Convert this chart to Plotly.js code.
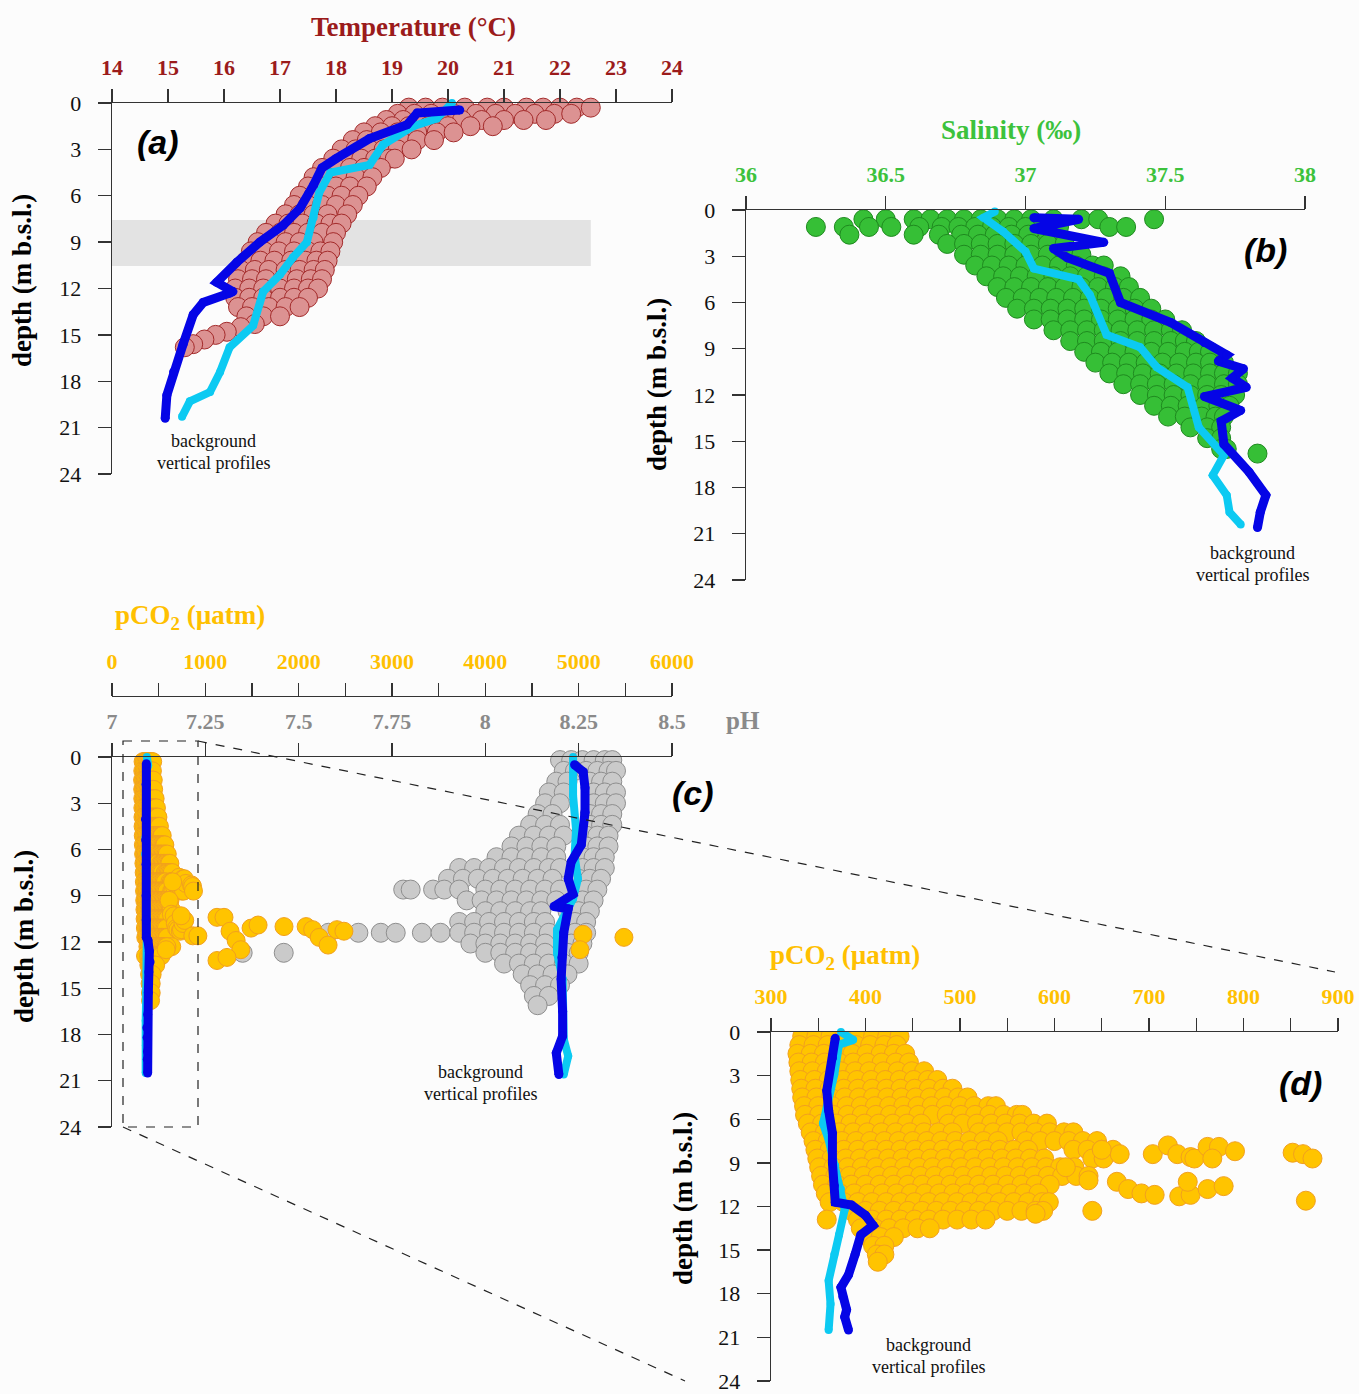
<!DOCTYPE html>
<html>
<head>
<meta charset="utf-8">
<script src="https://cdn.plot.ly/plotly-3.0.1.min.js"></script>
<style>html,body{margin:0;padding:0;background:#fcfcfc;}#chart{width:1359px;height:1394px;}</style>
</head>
<body>
<div id="chart"></div>
<script>
// ---------------- DATA ----------------
// Panel (a): temperature cloud, rows of [depth, [temperatures]]
const tempRows = [
  [0.3, [19.3, 19.6, 19.9, 20.3, 20.7, 21.0, 21.4, 21.7, 22.0, 22.3, 22.55]],
  [0.7, [19.1, 19.4, 19.7, 20.1, 20.5, 20.85, 21.2, 21.55, 21.9, 22.2]],
  [1.1, [18.9, 19.2, 19.5, 19.85, 20.25, 20.6, 21.0, 21.35, 21.75]],
  [1.5, [18.7, 19.0, 19.3, 19.65, 20.0, 20.4, 20.8]],
  [1.9, [18.5, 18.8, 19.1, 19.45, 19.8, 20.1]],
  [2.4, [18.3, 18.55, 18.85, 19.15, 19.45, 19.75]],
  [3.0, [18.1, 18.35, 18.6, 18.85, 19.1, 19.35]],
  [3.6, [17.95, 18.2, 18.45, 18.7, 18.95, 19.05]],
  [4.2, [17.75, 18.0, 18.25, 18.5, 18.8]],
  [4.8, [17.6, 17.85, 18.1, 18.35, 18.65]],
  [5.4, [17.5, 17.75, 18.0, 18.25, 18.55]],
  [6.0, [17.35, 17.6, 17.85, 18.1, 18.4]],
  [6.6, [17.25, 17.5, 17.75, 18.0, 18.3]],
  [7.2, [17.1, 17.35, 17.6, 17.85, 18.2]],
  [7.8, [16.92, 17.15, 17.4, 17.65, 17.9, 18.1]],
  [8.4, [16.75, 17.0, 17.25, 17.5, 17.75, 18.0]],
  [9.0, [16.6, 16.85, 17.1, 17.35, 17.6, 17.95]],
  [9.6, [16.48, 16.72, 16.98, 17.25, 17.5, 17.72, 17.9]],
  [10.2, [16.4, 16.65, 16.9, 17.2, 17.45, 17.65, 17.85]],
  [10.8, [16.3, 16.55, 16.8, 17.1, 17.35, 17.6, 17.8]],
  [11.4, [16.25, 16.5, 16.75, 17.05, 17.3, 17.55, 17.75]],
  [12.0, [16.2, 16.45, 16.7, 17.0, 17.25, 17.5, 17.68]],
  [12.6, [16.2, 16.45, 16.7, 17.0, 17.25, 17.5]],
  [13.2, [16.25, 16.5, 16.8, 17.1, 17.35]],
  [13.8, [16.4, 16.7, 17.0]],
  [14.3, [16.55]]
];
const tempTail = [[16.3,14.5],[16.05,14.8],[15.85,15.0],[15.65,15.3],[15.45,15.6],[15.3,15.8]];
const tempDark = [[20.21,0.45],[19.45,0.65],[19.27,1.4],[18.6,2.3],[18.0,3.6],[17.75,4.2],[17.6,5.3],[17.36,6.8],[17.06,7.9],[16.64,9.0],[16.23,10.3],[15.87,11.6],[16.16,12.2],[16.1,12.3],[15.63,12.9],[15.45,13.7],[15.27,15.6],[15.1,17.4],[14.98,18.9],[14.95,20.4]];
const tempLight = [[20.07,0.0],[19.8,1.0],[19.38,1.5],[18.84,2.7],[18.6,4.0],[17.9,4.5],[17.7,5.8],[17.6,7.4],[17.48,9.0],[17.23,10.0],[17.0,11.1],[16.7,12.2],[16.52,14.4],[16.1,15.8],[15.93,17.4],[15.75,18.7],[15.39,19.3],[15.25,20.3]];
const tempBand = [7.57, 10.54]; // depth range of grey band

// Panel (b): salinity cloud
const salRows = [
  [0.6, [36.42, 36.5, 36.6, 36.66, 36.72, 36.78, 36.84, 36.9, 36.96, 37.02, 37.1, 37.2, 37.26, 37.46]],
  [1.1, [36.25, 36.35, 36.44, 36.52, 36.62, 36.7, 36.76, 36.82, 36.88, 36.94, 37.0, 37.12, 37.3, 37.36]],
  [1.6, [36.37, 36.6, 36.69, 36.77, 36.83, 36.89, 36.95, 37.01, 37.08]],
  [2.2, [36.72, 36.78, 36.84, 36.9, 36.96, 37.02, 37.08, 37.14]],
  [2.9, [36.78, 36.84, 36.9, 36.96, 37.02, 37.08, 37.14, 37.2]],
  [3.6, [36.82, 36.88, 36.94, 37.0, 37.06, 37.12, 37.18, 37.24, 37.28]],
  [4.3, [36.86, 36.92, 36.98, 37.04, 37.1, 37.16, 37.22, 37.28, 37.34]],
  [5.0, [36.9, 36.96, 37.02, 37.08, 37.14, 37.2, 37.26, 37.32, 37.37]],
  [5.7, [36.93, 36.99, 37.05, 37.11, 37.17, 37.23, 37.29, 37.35, 37.41]],
  [6.4, [36.97, 37.03, 37.09, 37.15, 37.21, 37.27, 37.33, 37.39, 37.45]],
  [7.1, [37.03, 37.09, 37.15, 37.21, 37.27, 37.33, 37.39, 37.45, 37.5]],
  [7.8, [37.1, 37.16, 37.22, 37.28, 37.34, 37.4, 37.46, 37.52, 37.56]],
  [8.5, [37.16, 37.22, 37.28, 37.34, 37.4, 37.46, 37.52, 37.57, 37.61]],
  [9.2, [37.21, 37.27, 37.33, 37.39, 37.45, 37.51, 37.57, 37.62, 37.66]],
  [9.9, [37.25, 37.31, 37.37, 37.43, 37.49, 37.55, 37.61, 37.66, 37.71]],
  [10.6, [37.3, 37.36, 37.42, 37.48, 37.54, 37.6, 37.66, 37.71, 37.76]],
  [11.3, [37.35, 37.41, 37.47, 37.53, 37.59, 37.65, 37.71, 37.76]],
  [12.0, [37.41, 37.47, 37.53, 37.59, 37.65, 37.7, 37.75]],
  [12.7, [37.46, 37.52, 37.58, 37.64, 37.69, 37.73]],
  [13.4, [37.51, 37.57, 37.63, 37.68, 37.71]],
  [14.1, [37.59, 37.65, 37.7]],
  [14.8, [37.65, 37.7]],
  [15.5, [37.7, 37.72]],
  [15.8, [37.83]]
];
const salDark = [[37.03,0.5],[37.19,0.6],[37.03,1.2],[37.28,2.1],[37.1,2.5],[37.15,3.1],[37.3,4.1],[37.34,6.0],[37.52,7.3],[37.64,8.6],[37.72,9.4],[37.69,9.8],[37.78,10.3],[37.74,10.9],[37.79,11.5],[37.64,12.1],[37.77,13.0],[37.70,13.7],[37.71,15.2],[37.8,17.0],[37.86,18.5],[37.84,19.6],[37.83,20.6]];
const salLight = [[36.89,0.1],[36.85,0.5],[36.92,1.4],[37.0,2.7],[37.03,3.8],[37.19,4.5],[37.23,5.5],[37.29,8.1],[37.41,8.9],[37.47,10.2],[37.58,11.5],[37.62,14.1],[37.71,15.9],[37.67,17.2],[37.72,18.5],[37.73,19.6],[37.77,20.4]];

// Panel (c): pH cloud
const phRows = [
  [0.2, [8.20, 8.23, 8.26, 8.29, 8.32, 8.34]],
  [0.9, [8.21, 8.24, 8.27, 8.30, 8.33, 8.35]],
  [1.6, [8.19, 8.22, 8.28, 8.31, 8.34]],
  [2.3, [8.17, 8.21, 8.29, 8.32, 8.35]],
  [3.0, [8.16, 8.20, 8.29, 8.32, 8.35]],
  [3.7, [8.14, 8.18, 8.28, 8.31, 8.34]],
  [4.4, [8.12, 8.16, 8.20, 8.28, 8.31, 8.34]],
  [5.1, [8.09, 8.13, 8.17, 8.21, 8.27, 8.30, 8.33]],
  [5.8, [8.07, 8.11, 8.15, 8.19, 8.27, 8.30, 8.33]],
  [6.5, [8.03, 8.07, 8.11, 8.15, 8.19, 8.26, 8.29, 8.32]],
  [7.2, [7.93, 7.97, 8.01, 8.05, 8.09, 8.13, 8.17, 8.20, 8.26, 8.29, 8.32]],
  [7.9, [7.90, 7.94, 7.98, 8.02, 8.06, 8.10, 8.14, 8.18, 8.25, 8.28, 8.31]],
  [8.6, [7.78, 7.80, 7.86, 7.89, 7.93, 8.00, 8.04, 8.08, 8.12, 8.16, 8.20, 8.27, 8.30]],
  [9.3, [7.95, 7.99, 8.03, 8.07, 8.11, 8.15, 8.19, 8.26, 8.29]],
  [10.0, [8.00, 8.04, 8.08, 8.12, 8.15, 8.22, 8.25, 8.28]],
  [10.7, [7.93, 7.97, 8.01, 8.05, 8.09, 8.13, 8.16, 8.24, 8.27]],
  [11.4, [7.58, 7.66, 7.72, 7.76, 7.83, 7.88, 7.93, 7.97, 8.01, 8.05, 8.09, 8.13, 8.17, 8.24, 8.27]],
  [12.1, [7.96, 8.00, 8.04, 8.08, 8.12, 8.16, 8.23, 8.26]],
  [12.7, [7.35, 7.46, 8.00, 8.04, 8.08, 8.12, 8.16, 8.22, 8.25]],
  [13.4, [8.05, 8.09, 8.13, 8.17, 8.21, 8.25]],
  [14.1, [8.10, 8.14, 8.18, 8.22]],
  [14.8, [8.12, 8.16, 8.20]],
  [15.5, [8.13, 8.17]],
  [16.1, [8.14]]
];
const phDark = [[8.239,0.5],[8.262,0.96],[8.267,2.0],[8.267,3.6],[8.257,5.7],[8.23,6.8],[8.222,7.9],[8.235,8.9],[8.184,9.7],[8.222,9.85],[8.21,11.4],[8.205,13.0],[8.203,14.4],[8.207,16.5],[8.207,18.1],[8.19,19.2],[8.197,20.6]];
const phLight = [[8.235,0.0],[8.235,2.5],[8.243,4.7],[8.239,6.4],[8.248,7.9],[8.235,9.2],[8.192,11.2],[8.192,12.7],[8.207,14.4],[8.21,18.3],[8.222,19.4],[8.21,20.6]];

// Panels (c) and (d): pCO2 cloud
const pco2Rows = [
  [0.3, [333, 348, 363, 378, 393, 408, 423, 436]],
  [0.9, [330, 345, 360, 375, 390, 405, 420, 433]],
  [1.5, [328, 342, 356, 371, 386, 401, 416, 430, 442]],
  [2.1, [329, 343, 357, 372, 387, 402, 417, 432, 446]],
  [2.7, [330, 344, 359, 374, 389, 404, 419, 434, 449, 462]],
  [3.3, [331, 346, 361, 376, 391, 406, 421, 436, 451, 466, 476]],
  [3.9, [332, 347, 362, 377, 392, 407, 422, 437, 452, 467, 482, 492]],
  [4.5, [333, 348, 363, 378, 393, 408, 423, 438, 453, 468, 483, 498, 508]],
  [5.1, [335, 350, 365, 380, 395, 410, 425, 440, 455, 470, 485, 500, 515, 530, 538]],
  [5.7, [336, 351, 366, 381, 396, 411, 426, 441, 456, 471, 486, 501, 516, 531, 546, 560, 566]],
  [6.3, [339, 354, 369, 384, 399, 414, 429, 444, 459, 488, 503, 518, 533, 548, 563, 578, 592]],
  [6.9, [342, 357, 372, 387, 402, 417, 432, 447, 462, 477, 492, 520, 535, 550, 565, 580, 595, 610, 620]],
  [7.5, [345, 360, 375, 390, 405, 420, 435, 450, 465, 480, 495, 510, 525, 540, 570, 585, 600, 615, 630, 645]],
  [8.1, [347, 362, 377, 392, 407, 422, 437, 452, 467, 482, 497, 512, 527, 542, 557, 572, 620, 635, 650, 662]],
  [8.7, [349, 364, 379, 394, 409, 424, 439, 454, 469, 484, 499, 514, 529, 544, 559, 574, 589, 640, 652]],
  [9.3, [351, 366, 381, 396, 411, 426, 441, 456, 471, 486, 501, 516, 531, 546, 561, 576, 591, 606, 621]],
  [9.9, [353, 368, 383, 398, 413, 428, 443, 458, 473, 488, 503, 518, 533, 548, 563, 578, 593, 608, 623, 636]],
  [10.5, [355, 370, 385, 400, 415, 430, 445, 460, 475, 490, 505, 520, 535, 550, 565, 580, 595]],
  [11.1, [358, 373, 388, 403, 418, 433, 448, 463, 478, 493, 508, 523, 538, 553, 568, 583]],
  [11.7, [362, 377, 392, 407, 422, 437, 452, 467, 482, 497, 512, 527, 542, 557, 572, 587, 594]],
  [12.3, [385, 400, 415, 430, 445, 460, 475, 490, 505, 520, 535, 550, 565, 580]],
  [12.9, [359, 392, 407, 422, 437, 452, 467, 482, 497, 512, 527]],
  [13.5, [395, 410, 425, 440, 455, 468]],
  [14.1, [403, 416, 430]],
  [14.7, [408, 420]],
  [15.3, [412, 420]],
  [15.8, [413]]
];
const pco2Outliers = [[669,8.4],[704,8.4],[720,7.8],[730,8.4],[744,8.6],[748,8.7],[762,7.9],[774,7.9],[767,8.7],[791,8.2],[852,8.3],[863,8.4],[873,8.7],[650,8.1],[612,9.3],[636,10.2],[666,10.3],[678,10.8],[692,11.1],[706,11.2],[732,11.3],[744,11.2],[762,10.8],[779,10.6],[741,10.3],[866,11.6],[640,12.3],[588,12.3],[580,12.5]];
const pco2FarOutliers = [[920,11.6],[1125,10.4],[1200,10.4],[1265,11.3],[1330,11.9],[1380,12.5],[1125,13.2],[1232,13.0],[1490,11.1],[1565,10.9],[1843,11.0],[2080,11.0],[2150,11.2],[2220,11.7],[2315,12.2],[2410,11.2],[2485,11.3],[5046,11.5],[5014,12.5],[5485,11.7]];
const pco2Dark = [[368,0.43],[365,1.78],[359,4.03],[361,5.39],[365,6.96],[365,9.0],[367,10.57],[368,11.7],[385,11.9],[400,12.6],[408,13.3],[395,13.95],[389,15.3],[382,16.7],[374,17.56],[376,18.2],[380,19.1],[378,19.6],[382,20.5]];
const pco2Light = [[374,0.0],[387,0.54],[372,0.88],[367,2.9],[359,5.2],[355,6.3],[361,7.4],[368,9.2],[374,10.8],[378,12.2],[372,13.95],[367,15.3],[361,17.1],[363,18.7],[361,20.5]];

// Tick labels
const depthTicks = [0, 3, 6, 9, 12, 15, 18, 21, 24];
const tempTicks = [14, 15, 16, 17, 18, 19, 20, 21, 22, 23, 24];
const salTicks = [36, 36.5, 37, 37.5, 38];
const phTicks = [7, 7.25, 7.5, 7.75, 8, 8.25, 8.5];
const phTickText = ['7', '7.25', '7.5', '7.75', '8', '8.25', '8.5'];
const pco2TicksC = [0, 1000, 2000, 3000, 4000, 5000, 6000];
const pco2TicksD = [300, 400, 500, 600, 700, 800, 900];

// ---------------- HELPERS ----------------
function rowsXY(rows) { const x = [], y = []; rows.forEach(r => r[1].forEach(v => { x.push(v); y.push(r[0]); })); return [x, y]; }
function pairsXY(p) { return [p.map(q => q[0]), p.map(q => q[1])]; }

const W = 1359, H = 1394;
const px = v => v / W, py = v => 1 - v / H;

const SERIF = 'Liberation Serif, Times New Roman, serif';
const SANS = 'Liberation Sans, Arial, sans-serif';
const C_TEMP = '#9b1b1b', C_SAL = '#3cc23c', C_PCO2 = '#ffc000', C_PH = '#8a8a8a';
const DARK = '#0505e6', LIGHT = '#0ccaf2';

const [tX, tY] = rowsXY(tempRows); const [ttX, ttY] = pairsXY(tempTail);
const [sX, sY] = rowsXY(salRows);
const [pX, pY] = rowsXY(phRows);
const [cX, cY] = rowsXY(pco2Rows); const [oX, oY] = pairsXY(pco2Outliers); const [fX, fY] = pairsXY(pco2FarOutliers);

function cloud(x, y, xa, ya, size, fill, edge, clip) {
  return { type: 'scatter', mode: 'markers', x: x, y: y, xaxis: xa, yaxis: ya, cliponaxis: clip,
    marker: { size: size, color: fill, line: { color: edge, width: 1 } }, hoverinfo: 'skip', showlegend: false };
}
function prof(p, xa, ya, color, w) {
  const [x, y] = pairsXY(p);
  return { type: 'scatter', mode: 'lines+markers', x: x, y: y, xaxis: xa, yaxis: ya, cliponaxis: false,
    line: { color: color, width: w }, marker: { size: w, color: color }, hoverinfo: 'skip', showlegend: false };
}

const traces = [
  cloud(tX.concat(ttX), tY.concat(ttY), 'x', 'y', 19, '#dc9292', '#a32a2a', false),
  prof(tempLight, 'x', 'y', LIGHT, 8),
  prof(tempDark, 'x', 'y', DARK, 9),
  cloud(sX, sY, 'x2', 'y2', 19, '#36bf36', '#1f8a1f', false),
  prof(salLight, 'x2', 'y2', LIGHT, 8),
  prof(salDark, 'x2', 'y2', DARK, 9),
  cloud(pX, pY, 'x3', 'y3', 19, '#cacaca', '#8e8e8e', false),
  prof(phLight, 'x3', 'y3', LIGHT, 8),
  prof(phDark, 'x3', 'y3', DARK, 9),
  cloud(cX.concat(oX, fX), cY.concat(oY, fY), 'x5', 'y3', 18, '#ffc400', '#f2a01e', false),
  prof(pco2Light, 'x5', 'y3', LIGHT, 8),
  prof(pco2Dark, 'x5', 'y3', DARK, 9),
  cloud(cX.concat(oX), cY.concat(oY), 'x4', 'y4', 19, '#ffc400', '#f2a01e', true),
  prof(pco2Light, 'x4', 'y4', LIGHT, 8),
  prof(pco2Dark, 'x4', 'y4', DARK, 9)
];

const axBase = { showgrid: false, zeroline: false, showline: true, linecolor: '#333', linewidth: 1.3,
  ticks: 'outside', ticklen: 13, tickwidth: 1.3, tickcolor: '#333', fixedrange: true, ticklabeloverflow: 'allow' };
function xAx(dom, anchor, range, tv, tt, color, extra) {
  return Object.assign({}, axBase, { domain: dom, anchor: anchor, side: 'top', range: range,
    tickmode: 'array', tickvals: tv, ticktext: tt, ticklabelstandoff: 5,
    tickfont: { family: SERIF, size: 22, color: color, weight: 'bold' } }, extra || {});
}
function yAx(dom, anchor) {
  return Object.assign({}, axBase, { domain: dom, anchor: anchor, range: [24, 0],
    tickmode: 'array', tickvals: depthTicks, ticktext: depthTicks.map(String), ticklabelstandoff: 12,
    tickfont: { family: SERIF, size: 22, color: '#111' } });
}
const minorTicks = (d, t0) => ({ ticks: 'outside', ticklen: 13, tickwidth: 1.3, tickcolor: '#333', dtick: d, tick0: t0, showgrid: false });

const domA = [px(112), px(672)], domB = [px(746), px(1305)], domC = [px(112), px(672)], domD = [px(771), px(1338)];

function ann(text, x, y, font, extra) {
  return Object.assign({ text: text, xref: 'paper', yref: 'paper', x: px(x), y: py(y), xanchor: 'center', yanchor: 'middle',
    showarrow: false, font: font }, extra || {});
}
const bold = (size, color) => ({ family: SERIF, size: size, color: color, weight: 'bold' });
const panelFont = { family: SANS, size: 34, color: '#000', weight: 'bold', style: 'italic' };
const noteFont = { family: SERIF, size: 18, color: '#111' };
const notePos = [[213, 441], [1252, 553], [480, 1072], [928, 1345]];
const annotations = [
  ann('Temperature (°C)', 413, 27, bold(27, C_TEMP)),
  ann('Salinity (‰)', 1011, 130, bold(27, C_SAL)),
  ann('pCO<sub>2</sub> (µatm)', 190, 617, bold(27, C_PCO2)),
  ann('pH', 743, 720, bold(25, C_PH)),
  ann('pCO<sub>2</sub> (µatm)', 845, 957, bold(27, C_PCO2)),
  ann('depth (m b.s.l.)', 22, 281, bold(27, '#000'), { textangle: -90 }),
  ann('depth (m b.s.l.)', 657, 385, bold(27, '#000'), { textangle: -90 }),
  ann('depth (m b.s.l.)', 24, 937, bold(27, '#000'), { textangle: -90 }),
  ann('depth (m b.s.l.)', 683, 1199, bold(27, '#000'), { textangle: -90 }),
  ann('(a)', 158, 142, panelFont),
  ann('(b)', 1265, 250, panelFont),
  ann('(c)', 693, 793, panelFont),
  ann('(d)', 1300, 1083, panelFont)
];
notePos.forEach(p => {
  annotations.push(ann('background', p[0], p[1], noteFont));
  annotations.push(ann('vertical profiles', p[0], p[1] + 22, noteFont));
});

const shapes = [
  { type: 'rect', xref: 'x', yref: 'y', x0: 14, x1: 22.55, y0: tempBand[0], y1: tempBand[1], fillcolor: '#e3e3e3', line: { width: 0 }, layer: 'below' },
  { type: 'rect', xref: 'paper', yref: 'paper', x0: px(123), x1: px(198), y0: py(741), y1: py(1127), line: { color: '#222', width: 1.2, dash: 'dash' } },
  { type: 'line', xref: 'paper', yref: 'paper', x0: px(198), y0: py(741), x1: px(1335), y1: py(972), line: { color: '#222', width: 1.2, dash: 'dash' } },
  { type: 'line', xref: 'paper', yref: 'paper', x0: px(123), y0: py(1127), x1: px(685), y1: py(1381), line: { color: '#222', width: 1.2, dash: 'dash' } }
];

const layout = {
  width: W, height: H, margin: { l: 0, r: 0, t: 0, b: 0 },
  paper_bgcolor: '#fcfcfc', plot_bgcolor: 'rgba(0,0,0,0)', showlegend: false,
  xaxis: xAx(domA, 'y', [14, 24], tempTicks, tempTicks.map(String), C_TEMP),
  yaxis: yAx([py(474), py(103)], 'x'),
  xaxis2: xAx(domB, 'y2', [36, 38], salTicks, salTicks.map(String), C_SAL),
  yaxis2: yAx([py(580), py(210)], 'x2'),
  xaxis3: xAx(domC, 'y3', [7, 8.5], phTicks, phTickText, C_PH),
  yaxis3: yAx([py(1127), py(757)], 'x3'),
  xaxis4: xAx(domD, 'y4', [300, 900], pco2TicksD, pco2TicksD.map(String), C_PCO2, { minor: minorTicks(50, 300) }),
  yaxis4: yAx([py(1381), py(1032)], 'x4'),
  xaxis5: xAx(domC, 'free', [0, 6000], pco2TicksC, pco2TicksC.map(String), C_PCO2, { overlaying: 'x3', position: py(696), minor: minorTicks(500, 0) }),
  annotations: annotations,
  shapes: shapes
};

Plotly.newPlot('chart', traces, layout, { staticPlot: true, displayModeBar: false });
</script>
</body>
</html>
